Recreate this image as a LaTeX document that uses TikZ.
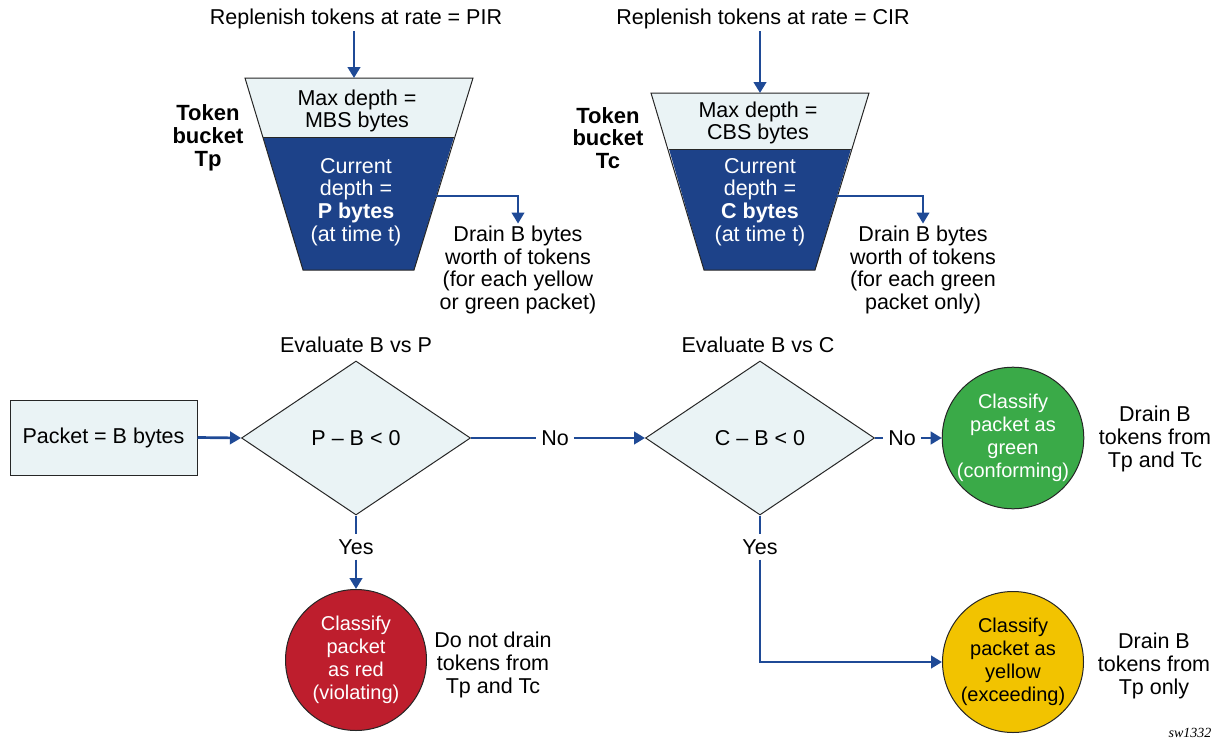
\documentclass[tikz,border=0pt]{standalone}
\usepackage{fontspec}
\setmainfont{Liberation Sans}
\newfontfamily\capfont{Liberation Serif}
\usetikzlibrary{arrows.meta,shapes.geometric}
\definecolor{nblue}{HTML}{1D4289}
\definecolor{lightfill}{HTML}{EAF3F5}
\definecolor{arrblue}{HTML}{1F4A96}
\definecolor{cred}{HTML}{BE1E2D}
\definecolor{cgreen}{HTML}{3AAA48}
\definecolor{cyellow}{HTML}{F2C300}
\begin{document}
\begin{tikzpicture}[x=1pt,y=-1pt,
 font=\fontsize{21.5}{22.8}\selectfont,
 txt/.style={align=center,inner sep=2pt},
 lbl/.style={inner sep=5pt},
 bold/.style={align=center,inner sep=2pt,font=\fontsize{22}{22.8}\selectfont\bfseries},
 arr/.style={draw=arrblue,line width=2.7pt,-{Triangle[length=11pt,width=12.5pt]}},
 ln/.style={draw=arrblue,line width=2.7pt},
 outline/.style={draw=black!85,line width=1pt},
 dia/.style={diamond,draw=black!85,line width=1pt,fill=lightfill,minimum width=229pt,minimum height=154pt,inner sep=0pt,aspect=1.48},
 circ/.style={circle,draw=black!85,line width=1pt,minimum size=141pt,inner sep=0pt,align=center,font=\fontsize{20}{22.8}\selectfont},
]
\useasboundingbox (0,0) rectangle (1216,744);

% ---------- Bucket Tp ----------
\fill[lightfill] (245,78) -- (473,78) -- (454,137) -- (263,137) -- cycle;
\fill[nblue] (263,137) -- (454,137) -- (414,270) -- (303,270) -- cycle;
\draw[outline] (245,78) -- (473,78) -- (414,270) -- (303,270) -- cycle;
\draw[outline] (263,137) -- (454,137);
\coordinate (pTop) at (354,78);
\coordinate (pOut) at (436,196);
\node[txt] (rp) at (356,19) {Replenish tokens at rate = PIR};
\node[txt] (maxP) at (357,111) {Max depth =\\MBS bytes};
\node[txt,text=white] (curP) at (356,202) {Current\\depth =\\\textbf{P bytes}\\(at time t)};
\node[bold] (tokP) at (208,138) {Token\\bucket\\Tp};
\node[txt] (drainP) at (518,270) {Drain B bytes\\worth of tokens\\(for each yellow\\or green packet)};
\draw[arr] (rp.south -| pTop) -- (pTop);
\draw[arr,line width=2.2pt] (pOut) -| (drainP.north);

% ---------- Bucket Tc ----------
\fill[lightfill] (651,93) -- (869,93) -- (851,149) -- (669,149) -- cycle;
\fill[nblue] (669,149) -- (851,149) -- (815,270) -- (704,270) -- cycle;
\draw[outline] (651,93) -- (869,93) -- (815,270) -- (704,270) -- cycle;
\draw[outline] (669,149) -- (851,149);
\coordinate (cTop) at (760,93);
\coordinate (cOut) at (837,196);
\node[txt] (rc) at (763,19) {Replenish tokens at rate = CIR};
\node[txt] (maxC) at (758,123) {Max depth =\\CBS bytes};
\node[txt,text=white] (curC) at (760,202) {Current\\depth =\\\textbf{C bytes}\\(at time t)};
\node[bold] (tokC) at (608,138) {Token\\bucket\\Tc};
\node[txt] (drainC) at (923,270) {Drain B bytes\\worth of tokens\\(for each green\\packet only)};
\draw[arr] (rc.south -| cTop) -- (cTop);
\draw[arr,line width=2.2pt] (cOut) -| (drainC.north);

% ---------- Flow ----------
\node[draw=black!85,line width=1pt,fill=lightfill,minimum width=187pt,minimum height=75pt,inner sep=0pt] (pkt) at (103.5,437.5) {Packet = B bytes};
\node[dia] (d1) at (356,438) {P – B < 0};
\node[txt] (e1) at (356,345) {Evaluate B vs P};
\node[dia] (d2) at (760,438) {C – B < 0};
\node[txt] (e2) at (758,345) {Evaluate B vs C};
\node[lbl] (no1) at (555,438) {No};
\node[lbl] (no2) at (902,438) {No};
\node[lbl] (yes1) at (356,547) {Yes};
\node[lbl] (yes2) at (760,547) {Yes};

\node[circ,fill=cgreen,text=white] (green) at (1013,438) {Classify\\packet as\\green\\(conforming)};
\node[circ,fill=cred,text=white] (red) at (356,660) {Classify\\packet\\as red\\(violating)};
\node[circ,fill=cyellow,text=black] (yellow) at (1013,662) {Classify\\packet as\\yellow\\(exceeding)};

\node[txt] (tg) at (1155,439) {Drain B\\tokens from\\Tp and Tc};
\node[txt] (tr) at (493,665) {Do not drain\\tokens from\\Tp and Tc};
\node[txt] (ty) at (1154,666) {Drain B\\tokens from\\Tp only};

\draw[arr] (pkt.east) -- (d1.west);
\draw[ln] (d1.east) -- (no1.west);
\draw[arr] (no1.east) -- (d2.west);
\draw[ln] (d2.east) -- (no2.west);
\draw[arr] (no2.east) -- (green.west);
\draw[ln] (d1.south) -- (yes1.north);
\draw[arr] (yes1.south) -- (red.north);
\draw[ln] (d2.south) -- (yes2.north);
\draw[arr] (yes2.south) |- (yellow.west);

\node[font=\capfont\itshape\fontsize{14}{16}\selectfont,inner sep=0pt] (sw) at (1190,733) {sw1332};
\end{tikzpicture}
\end{document}
